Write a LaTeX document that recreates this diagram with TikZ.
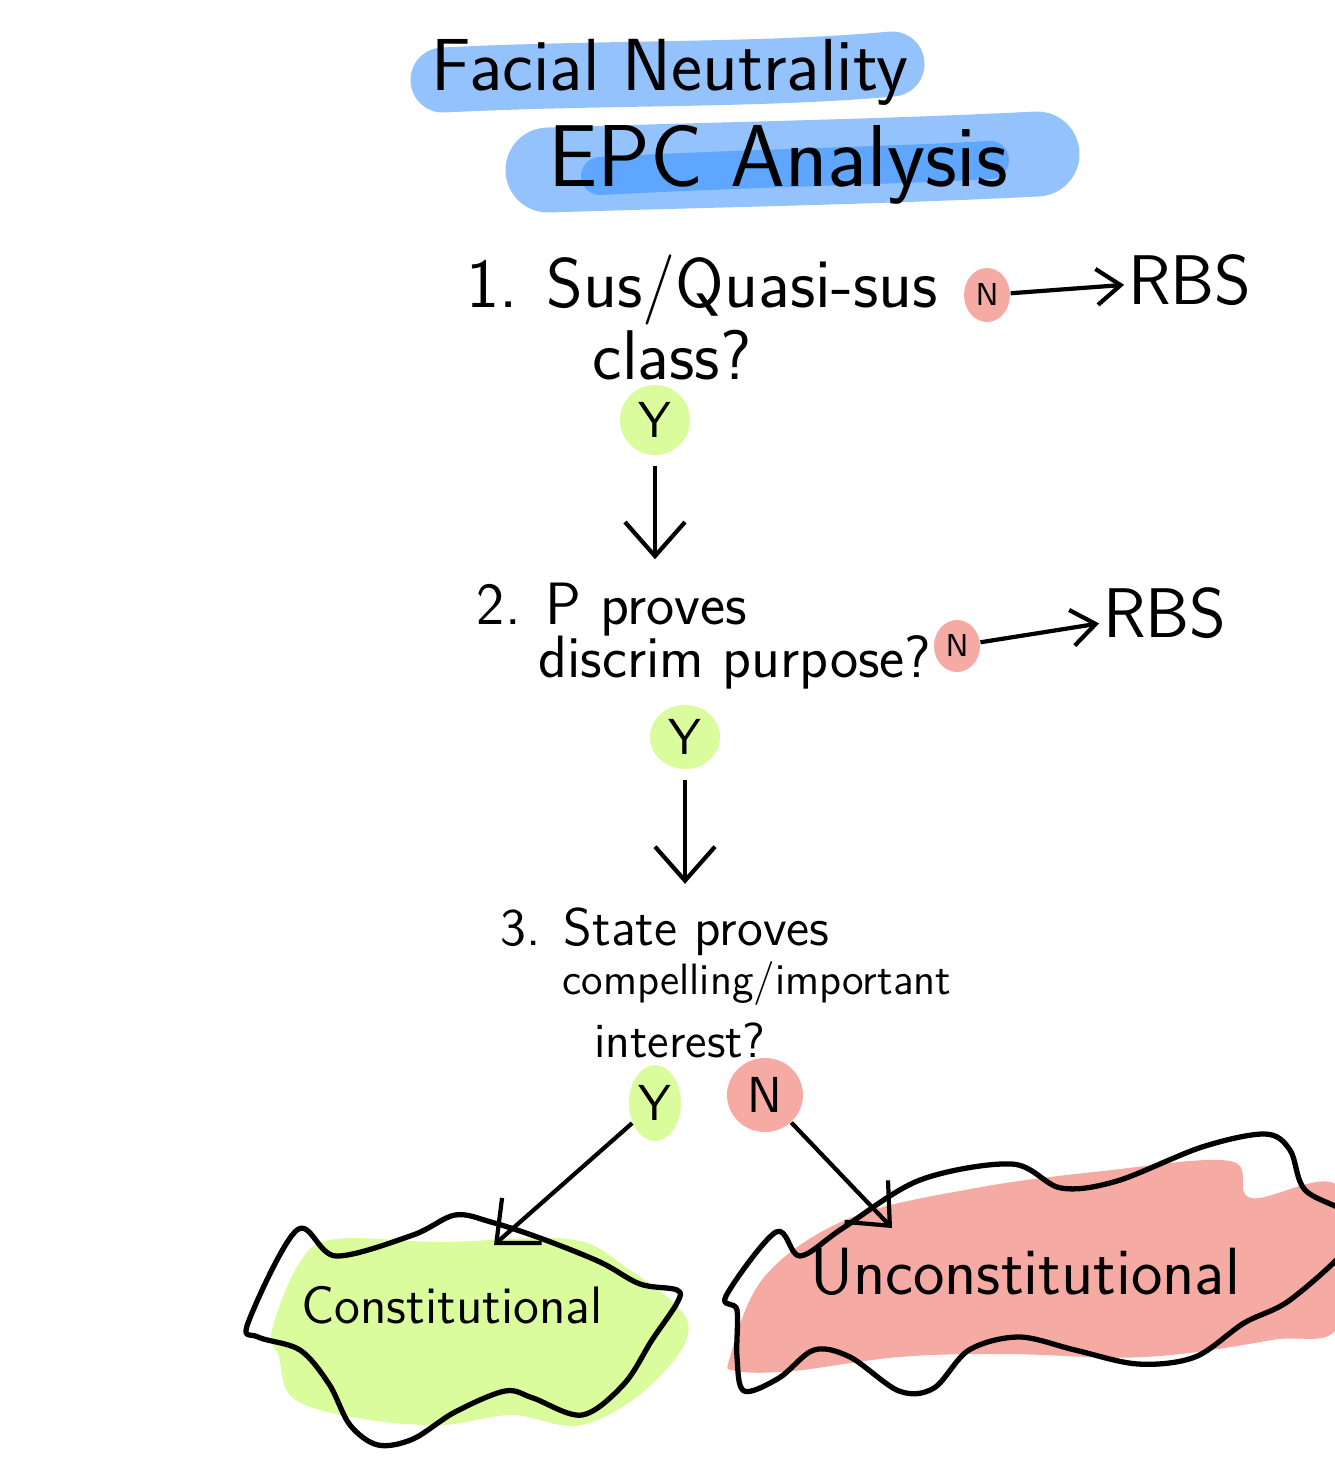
\documentclass[tikz,border=0pt]{standalone}
\usepackage{tikz}
\usetikzlibrary{arrows.meta,shapes.geometric}
\definecolor{hlblue}{HTML}{94C2FD}
\definecolor{hlbluedark}{HTML}{5EA6FF}
\definecolor{yesgreen}{HTML}{DAFC9C}
\definecolor{nored}{HTML}{F5ABA3}

\begin{document}
\begin{tikzpicture}[x=0.1mm,y=-0.1mm,
  hand/.style={font=\sffamily\fontsize{#1}{#1}\selectfont,inner sep=1pt},
  yesbadge/.style={ellipse,fill=yesgreen,inner sep=0pt,font=\sffamily\Large},
  nobadge/.style={ellipse,fill=nored,inner sep=0pt,font=\sffamily\small},
  flow/.style={-{Straight Barb[length=3.4mm,width=6mm]},line width=1.2pt},
  sideflow/.style={-{Straight Barb[length=2.4mm,width=3.6mm]},line width=1.2pt},
  blobline/.style={line width=1.5pt,line join=round}]
  \useasboundingbox (0,0) rectangle (1334,1459);

  % title highlights
  \draw[hlblue,line width=6.5mm,line cap=round] (443,80) .. controls (600,72) and (760,76) .. (892,64);
  \draw[hlblue,line width=8.5mm,line cap=round] (548,170) .. controls (700,165) and (880,162) .. (1037,154);
  \draw[hlbluedark,line width=3.8mm,line cap=round] (600,176) .. controls (750,168) and (880,166) .. (990,160);
  \node[hand=21] (facial) at (670,72) {Facial Neutrality};
  \node[hand=25] (epc) at (778,165) {EPC Analysis};

  % outcome blobs
  \fill[yesgreen] plot[smooth cycle,tension=0.6] coordinates {(272,1330) (300,1262) (336,1239) (441,1242) (568,1239) (624,1266) (688,1323) (652,1384) (582,1425) (512,1415) (441,1425) (357,1418) (293,1398) (279,1357)};
  \draw[blobline] plot[smooth cycle,tension=0.55] coordinates {(248,1323) (297,1230) (336,1256) (413,1235) (455,1215) (491,1222) (540,1238) (600,1262) (640,1284) (677,1290) (677,1303) (652,1340) (624,1384) (582,1415) (533,1398) (505,1391) (455,1412) (413,1439) (378,1445) (350,1425) (329,1384) (300,1350) (258,1337)};
  \fill[nored] plot[smooth cycle,tension=0.6] coordinates {(730,1357) (765,1276) (850,1218) (976,1188) (1103,1171) (1230,1161) (1251,1198) (1340,1188) (1340,1323) (1272,1340) (1145,1357) (1005,1354) (899,1357) (793,1371) (737,1371)};
  \draw[blobline] plot[smooth cycle,tension=0.55] coordinates {(726,1296) (776,1232) (800,1256) (843,1228) (920,1180) (1012,1164) (1061,1188) (1117,1181) (1202,1147) (1265,1134) (1290,1150) (1305,1190) (1350,1215) (1350,1245) (1290,1300) (1244,1323) (1195,1357) (1138,1364) (1075,1350) (1019,1337) (969,1350) (934,1388) (899,1391) (850,1357) (814,1350) (779,1378) (744,1391) (737,1357) (737,1310)};
  \node[hand=15] (cons) at (452,1305) {Constitutional};
  \node[hand=19] (uncons) at (1025,1272) {Unconstitutional};
  \coordinate (constop) at (494,1245);
  \coordinate (unctop) at (892,1228);

  % step 1
  \node[hand=20] (s1a) at (702,290) {1. Sus/Quasi-sus};
  \node[hand=20] (s1b) at (672,355) {class?};
  \node[nobadge,minimum width=4.6mm,minimum height=5.4mm] (n1) at (987,295) {N};
  \node[hand=20] (rbs1) at (1190,280) {RBS};
  \node[yesbadge,minimum width=7mm,minimum height=7mm] (y1) at (655,420) {Y};

  % step 2
  \node[hand=17] (s2a) at (612,610) {2. P proves};
  \node[hand=17] (s2b) at (735,662) {discrim purpose?};
  \node[nobadge,minimum width=4.6mm,minimum height=5.2mm] (n2) at (957,646) {N};
  \node[hand=20] (rbs2) at (1165,613) {RBS};
  \node[yesbadge,minimum width=7mm,minimum height=6.4mm] (y2) at (685,737) {Y};

  % step 3
  \node[hand=15] (s3a) at (665,932) {3. State proves};
  \node[hand=12.5] (s3b) at (757,984) {compelling/important};
  \node[hand=14] (s3c) at (680,1040) {interest?};
  \node[yesbadge,minimum width=5.2mm,minimum height=7.6mm] (y3) at (655,1103) {Y};
  \node[nobadge,minimum width=7.6mm,minimum height=7.4mm,font=\sffamily\Large] (n3) at (765,1095) {N};

  % connectors
  \draw[sideflow] (n1) -- (rbs1);
  \draw[sideflow] (n2) -- (rbs2);
  \draw[flow,shorten <=3pt,shorten >=2mm] (y1) -- (y1 |- s2a.north);
  \draw[flow,shorten <=3pt,shorten >=2mm] (y2) -- (y2 |- s3a.north);
  \draw[flow] (y3) -- (constop);
  \draw[flow] (n3) -- (unctop);
\end{tikzpicture}
\end{document}
